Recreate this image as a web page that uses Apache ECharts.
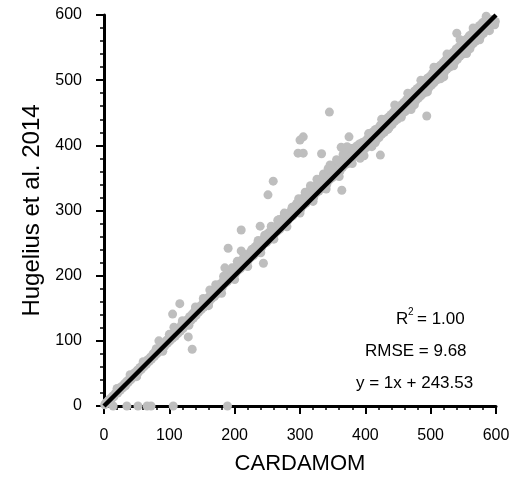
<!DOCTYPE html>
<html>
<head>
<meta charset="utf-8">
<script src="https://cdn.jsdelivr.net/npm/echarts@6/dist/echarts.min.js"></script>
<style>html,body{margin:0;padding:0;background:#fff}#c{width:520px;height:482px}</style>
</head>
<body>
<div id="c"></div>
<script>
// CARDAMOM (x) values of the grey points
const cardamom = [
1,3,5,7,9,11,13,15,17,19,
21,23,25,27,29,31,33,35,37,39,
41,43,45,47,49,51,53,55,57,59,
61,63,65,67,69,71,73,75,77,79,
81,83,85,87,89,91,93,95,97,99,
101,103,105,107,109,111,113,115,117,119,
121,123,125,127,129,131,133,135,137,139,
141,143,145,147,149,151,153,155,157,159,
161,163,165,167,169,171,173,175,177,179,
181,183,185,187,189,191,193,195,197,199,
201,203,205,207,209,211,213,215,217,219,
221,223,225,227,229,231,233,235,237,239,
241,243,245,247,249,251,253,255,257,259,
261,263,265,267,269,271,273,275,277,279,
281,283,285,287,289,291,293,295,297,299,
301,303,305,307,309,311,313,315,317,319,
321,323,325,327,329,331,333,335,337,339,
341,343,345,347,349,351,353,355,357,359,
361,363,365,367,369,371,373,375,377,379,
381,383,385,387,389,391,393,395,397,399,
401,403,405,407,409,411,413,415,417,419,
421,423,425,427,429,431,433,435,437,439,
441,443,445,447,449,451,453,455,457,459,
461,463,465,467,469,471,473,475,477,479,
481,483,485,487,489,491,493,495,497,499,
501,503,505,507,509,511,513,515,517,519,
521,523,525,527,529,531,533,535,537,539,
541,543,545,547,549,551,553,555,557,559,
561,563,565,567,569,571,573,575,577,579,
581,583,585,587,589,591,593,595,597,599,
152,162,171,183,196,204,214,226,236,246,256,268,276,288,298,308,316,326,336,346,356,366,372,
160,180,200,220,240,260,280,300,320,340,360,380,
405,415,425,435,445,455,465,475,485,495,505,515,525,535,545,555,565,575,585,590,
392,398,410,470,520,560,
20,40,60,80,100,120,140,50,90,130,
116,105,84,107,129,135,14,35,52,66,72,106,189,
259,251,210,239,190,210,185,244,266,
345,305,300,297,305,333,375,363,343,364,423,
540,494,598
];
// Hugelius et al. 2014 (y) values of the grey points
const hugelius = [
2,5,4,9,11,10,15,14,19,21,
20,26,24,30,28,34,31,38,36,42,
40,46,44,51,48,55,52,59,56,63,
60,67,64,71,68,75,72,80,76,84,
80,88,84,92,87,96,92,100,96,104,
100,108,104,112,107,117,111,120,115,125,
119,129,124,132,127,137,131,141,135,146,
139,150,144,153,148,157,152,161,156,166,
160,170,165,174,168,178,172,182,177,188,
182,193,188,198,191,203,195,207,199,210,
203,214,208,218,211,224,215,228,219,231,
224,235,228,240,231,244,235,249,240,252,
243,255,249,260,251,265,255,269,260,272,
264,275,268,281,271,285,276,290,281,293,
284,296,289,301,292,306,296,311,300,313,
302,317,308,322,311,327,315,331,319,334,
320,337,327,342,330,347,334,352,338,355,
340,357,347,362,350,368,353,372,358,376,
360,377,366,383,370,388,372,392,377,395,
382,396,384,399,385,402,388,404,392,406,
396,410,399,415,401,420,405,424,408,426,
412,431,417,434,420,440,424,443,428,447,
432,451,437,455,440,459,446,462,449,466,
452,470,456,474,460,478,465,483,468,487,
472,490,476,494,480,499,484,503,488,506,
492,511,496,514,500,520,505,523,508,527,
512,531,517,535,520,540,524,543,528,548,
532,551,537,556,540,560,545,563,549,568,
552,571,556,575,560,580,565,584,568,588,
572,591,577,594,580,592,585,593,586,590,
165,178,186,199,212,222,233,240,254,262,276,286,296,305,318,328,338,348,356,370,378,386,398,
154,173,194,214,235,256,275,296,314,333,352,372,
418,404,440,425,462,443,480,462,500,482,520,502,540,522,562,541,580,562,598,576,
380,384,398,455,505,548,
27,48,68,88,110,131,152,45,84,124,
157,141,100,121,106,87,0,0,0,0,0,0,0,
345,324,270,276,242,238,212,219,285,
451,413,408,388,388,387,413,397,364,331,385,
572,445,585
];
// 1:1 line end points
const lineX = [0, 600];
const lineY = [0, 600];
// Axis range / ticks
const axisMin = 0, axisMax = 600, axisStep = 100;
// Statistics text
const statR2 = '1.00';
const statRMSE = '9.68';
const statEq = 'y = 1x + 243.53';

const font = 'Liberation Sans';
const pts = cardamom.map((x, i) => [x, hugelius[i]]);

const chart = echarts.init(document.getElementById('c'), null, {renderer: 'canvas'});
const axisCommon = {
  type: 'value', min: axisMin, max: axisMax, interval: axisStep,
  nameLocation: 'middle',
  nameTextStyle: {fontFamily: font, fontSize: 22, color: '#000'},
  axisLine: {show: true, onZero: false, lineStyle: {color: '#000', width: 3}},
  axisTick: {show: true, inside: false, length: 8, lineStyle: {color: '#000', width: 2}},
  minorTick: {show: true, splitNumber: 5, length: 4, lineStyle: {color: '#000', width: 1.5}},
  splitLine: {show: false},
  axisLabel: {fontFamily: font, fontSize: 16, color: '#000', margin: 22}
};
chart.setOption({
  animation: false,
  backgroundColor: '#fff',
  grid: {left: 104, right: 24, top: 15, bottom: 76},
  xAxis: Object.assign({}, axisCommon, {name: 'CARDAMOM', nameGap: 47}),
  yAxis: Object.assign({}, axisCommon, {name: 'Hugelius et al. 2014', nameGap: 58,
    nameTextStyle: {fontFamily: font, fontSize: 24, color: '#000'}}),
  series: [
    {type: 'scatter', data: pts, symbolSize: 9, itemStyle: {color: '#bebebe', opacity: 1}, z: 2},
    {type: 'line', data: lineX.map((x, i) => [x, lineY[i]]), showSymbol: false, symbol: 'none',
     lineStyle: {color: '#000', width: 4.5}, z: 3}
  ],
  graphic: [
    {type: 'text', left: 396, top: 311, style: {text: 'R', fontFamily: font, fontSize: 17, fill: '#000'}},
    {type: 'text', left: 408, top: 307, style: {text: '2', fontFamily: font, fontSize: 10, fill: '#000'}},
    {type: 'text', left: 417, top: 311, style: {text: '= ' + statR2, fontFamily: font, fontSize: 17, fill: '#000'}},
    {type: 'text', left: 365, top: 343, style: {text: 'RMSE = ' + statRMSE, fontFamily: font, fontSize: 17, fill: '#000'}},
    {type: 'text', left: 356, top: 375, style: {text: statEq, fontFamily: font, fontSize: 17, fill: '#000'}}
  ]
});
</script>
</body>
</html>
